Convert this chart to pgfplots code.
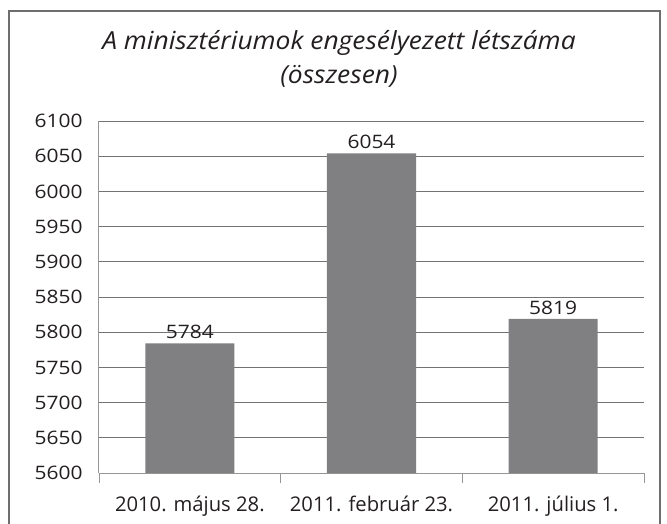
\documentclass[border=0pt]{standalone}
\usepackage{pgfplots}
\pgfplotsset{compat=1.18}
\usepackage{fontspec}
\setmainfont{Open Sans}[FakeStretch=1.13]
\newfontfamily\titlefont{Open Sans}[FakeStretch=1.06]
\newfontfamily\plainfont{Open Sans}
\definecolor{barc}{RGB}{128,128,131}
\definecolor{gridc}{RGB}{115,115,115}
\definecolor{axc}{RGB}{150,150,150}
\definecolor{framec}{RGB}{110,110,110}
\definecolor{txt}{RGB}{35,31,32}
\begin{document}
\begin{tikzpicture}
\begin{axis}[
  at={(0,0)}, anchor=south west,
  scale only axis,
  width=545bp, height=352bp,
  xmin=-0.5, xmax=2.5,
  ymin=5600, ymax=6100,
  ytick={5600,5650,...,6100},
  xtick={0,1,2},
  xticklabels={2010. május 28.,2011. február 23.,2011. július 1.},
  minor xtick={-0.5,0.5,1.5,2.5},
  minor tick length=10bp,
  major tick length=0pt,
  tick align=outside,
  tick style={color=axc, line width=0.9bp},
  axis x line*=bottom,
  axis y line*=left,
  axis line style={color=axc, line width=1bp, -},
  ymajorgrids,
  major grid style={color=gridc, line width=0.9bp},
  /pgf/number format/1000 sep={},
  /pgf/number format/assume math mode=true,
  yticklabel style={font=\fontsize{18.6}{20}\selectfont, text=txt, xshift=-13bp},
  xticklabel style={font=\plainfont\fontsize{20.3}{22}\selectfont, text=txt, anchor=base, yshift=-38bp},
  ybar, bar width=0.49,
  nodes near coords,
  nodes near coords style={font=\fontsize{18.6}{20}\selectfont, text=txt, yshift=1bp},
]
\addplot[fill=barc, draw=none] coordinates {(0,5784) (1,6054) (2,5819)};
\end{axis}
\draw[framec, line width=1.2bp] (-90bp,-70bp) rectangle (561bp,462bp);
\node[font=\titlefont\fontsize{25}{30}\selectfont\itshape, text=txt, anchor=base] at (240bp,423bp)
  {A minisztériumok engesélyezett létszáma};
\node[font=\titlefont\fontsize{25}{30}\selectfont\itshape, text=txt, anchor=base] at (240bp,389bp)
  {(összesen)};
\pgfresetboundingbox
\path[use as bounding box] (-99bp,-51bp) rectangle (568bp,473bp);
\end{tikzpicture}
\end{document}
